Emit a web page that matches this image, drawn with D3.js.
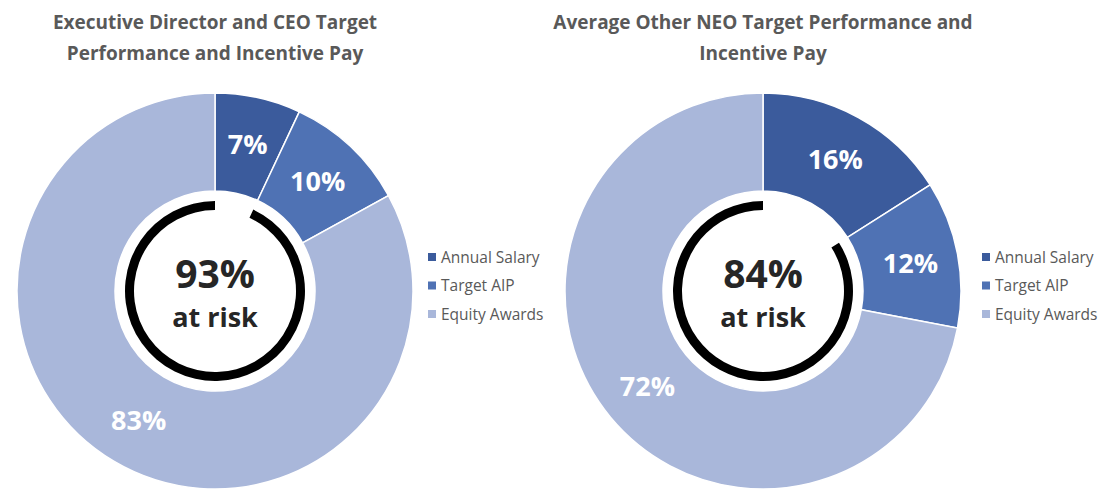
<!DOCTYPE html>
<html><head><meta charset="utf-8">
<script src="https://cdn.jsdelivr.net/npm/d3@7"></script>
<style>body{margin:0;background:#fff}svg{display:block}</style>
</head><body>
<svg id="c" width="1109" height="494"></svg>
<script>
const categories = ["Annual Salary", "Target AIP", "Equity Awards"];
const ceoValues = [7, 10, 83];
const neoValues = [16, 12, 72];
const ceoTitle = ["Executive Director and CEO Target", "Performance and Incentive Pay"];
const neoTitle = ["Average Other NEO Target Performance and", "Incentive Pay"];
const ceoAtRisk = 93;
const neoAtRisk = 84;
const colors = ["#3b5b9c", "#4f72b4", "#a9b7da"];

const svg = d3.select("#c");
const font = "'Open Sans', sans-serif";
const color = d3.scaleOrdinal().domain(categories).range(colors);

function donut(cx, cy, values, title, atRisk, legendX) {
  const g = svg.append("g").attr("transform", `translate(${cx},${cy})`);
  const data = categories.map((c, i) => ({cat: c, v: values[i]}));
  const pie = d3.pie().value(d => d.v).sort(null);
  const arcs = pie(data);
  const arc = d3.arc().innerRadius(100).outerRadius(198);
  g.selectAll("path.s").data(arcs).join("path").attr("class", "s")
    .attr("d", arc).attr("fill", d => color(d.data.cat))
    .attr("stroke", "#fff").attr("stroke-width", 1.5);
  const la = d3.arc().innerRadius(150).outerRadius(150);
  g.selectAll("text.l").data(arcs).join("text").attr("class", "l")
    .attr("transform", d => `translate(${la.centroid(d)})`)
    .attr("text-anchor", "middle").attr("dy", "0.36em")
    .attr("font-family", font).attr("font-weight", "bold").attr("font-size", 27)
    .attr("fill", "#fff").text(d => d.data.v + "%");
  // at-risk ring
  const ringArc = d3.arc().innerRadius(81).outerRadius(90)
    .startAngle(2 * Math.PI * (1 - atRisk / 100)).endAngle(2 * Math.PI);
  g.append("path").attr("d", ringArc()).attr("fill", "#000");
  g.append("text").attr("y", -3).attr("text-anchor", "middle")
    .attr("font-family", font).attr("font-weight", "bold").attr("font-size", 39)
    .attr("fill", "#262626").text(atRisk + "%");
  g.append("text").attr("y", 36).attr("text-anchor", "middle")
    .attr("font-family", font).attr("font-weight", "bold").attr("font-size", 27)
    .attr("fill", "#262626").text("at risk");
  // title
  const t = svg.append("text").attr("text-anchor", "middle")
    .attr("font-family", font).attr("font-weight", "bold").attr("font-size", 19)
    .attr("fill", "#595959");
  title.forEach((line, i) => t.append("tspan").attr("x", cx).attr("y", 29 + i * 31).text(line));
  // legend
  const lg = svg.append("g").attr("transform", `translate(${legendX},258)`);
  const items = lg.selectAll("g").data(categories).join("g")
    .attr("transform", (d, i) => `translate(0,${i * 28.5})`);
  items.append("rect").attr("x", 0).attr("y", -5).attr("width", 8).attr("height", 8).attr("fill", d => color(d));
  items.append("text").attr("x", 13).attr("y", 0).attr("dy", "0.32em")
    .attr("font-family", font).attr("font-size", 15.5).attr("fill", "#595959").text(d => d);
}

donut(215, 291, ceoValues, ceoTitle, ceoAtRisk, 428);
donut(763, 291, neoValues, neoTitle, neoAtRisk, 982);
</script>
</body></html>
